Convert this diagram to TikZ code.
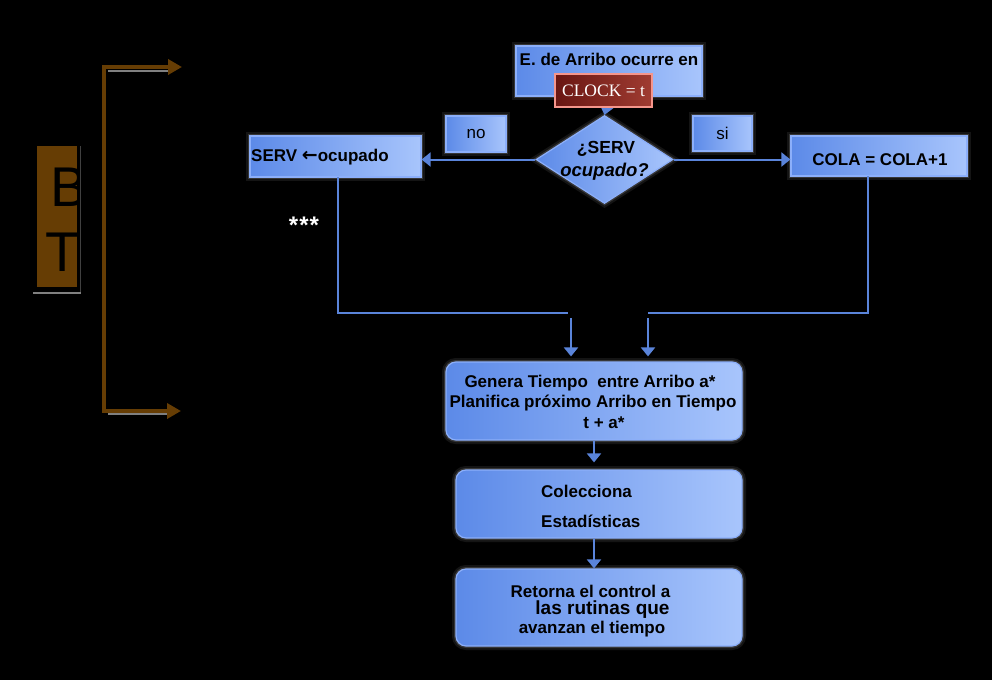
\documentclass[tikz,border=0pt]{standalone}
\usepackage{fontspec}
\setmainfont{Liberation Sans}
\newfontfamily\clkfont{Liberation Serif}
\newfontfamily\arrfont{DejaVu Sans}
\usetikzlibrary{shapes.geometric,arrows.meta}
\definecolor{bxL}{RGB}{92,138,232}
\definecolor{bxR}{RGB}{168,197,252}
\definecolor{bxE}{RGB}{140,175,250}
\definecolor{lnC}{RGB}{90,132,218}
\definecolor{brn}{RGB}{102,61,4}
\definecolor{clkL}{RGB}{105,22,18}
\definecolor{clkR}{RGB}{160,60,50}
\definecolor{clkE}{RGB}{245,150,140}
\tikzset{
  glow/.style={preaction={draw=white,draw opacity=0.08,line width=8pt},
               preaction={draw=white,draw opacity=0.15,line width=4pt}},
  bbox/.style={glow,draw=bxE,line width=1.2pt,left color=bxL,right color=bxR,
               inner sep=0pt,minimum width=#1},
  rbox/.style={bbox=#1,rounded corners=10pt},
  txt/.style={inner sep=0pt,text=black,font=\bfseries\fontsize{17}{20}\selectfont},
  conn/.style={draw=lnC,line width=2pt},
  tip/.style={-{Triangle[width=14pt,length=9pt]}},
}
\begin{document}
\begin{tikzpicture}[x=1pt,y=-1pt]
\fill[black] (0,0) rectangle (992,680);
\useasboundingbox (0,0) rectangle (992,680);
% BT block
\fill[brn] (37,146) rectangle (77,287);
\draw[gray!50!black,line width=1pt] (80,146) -- (80,293);
\draw[gray,line width=2pt] (33,293) -- (81,293);
\begin{scope}
\clip (37,146) rectangle (77,287);
\node[inner sep=0pt,font=\fontsize{56}{56}\selectfont,text=black] (bB) at (69,187) {B};
\node[inner sep=0pt,font=\fontsize{56}{56}\selectfont,text=black] (bT) at (63,252) {T};
\end{scope}
% bracket
\coordinate (brT) at (182,67);
\coordinate (brB) at (181,411);
\draw[gray,line width=1.5pt] (108,71) -- (168,71);
\draw[gray,line width=1.5pt] (108,414) -- (168,414);
\draw[brn,line width=4pt,{Triangle[width=15pt,length=14pt]}-{Triangle[width=15pt,length=14pt]}]
  (brT) -- (104,67) -- (104,411) -- (brB);
% top event box
\node[bbox=186pt,minimum height=50pt] (top) at (609,71) {};
\node[txt] (topt) at (609,59) {E. de Arribo ocurre en};
% diamond
\node[diamond,glow,draw=bxE,line width=1.2pt,left color=bxL,right color=bxR,
      inner sep=0pt,minimum width=137pt,minimum height=88pt] (dia) at (604.5,159.5) {};
\draw[conn,tip] (top.south) -- (dia.north);
\node[txt,font=\bfseries\fontsize{17.5}{20}\selectfont] (d1) at (606,149) {¿SERV};
\node[txt,font=\bfseries\itshape\fontsize{18.5}{20}\selectfont] (d2) at (604.5,172) {ocupado?};
% clock box
\node[draw=clkE,line width=1.5pt,left color=clkL,right color=clkR,inner sep=0pt,
      minimum width=97pt,minimum height=33pt,text=white,font=\clkfont\fontsize{17.5}{19}\selectfont]
      (clk) at (603.5,90.5) {CLOCK = t};
% no / si
\node[bbox=60pt,minimum height=36pt,font=\fontsize{17}{19}\selectfont] (no) at (476,134) {no};
\node[bbox=59pt,minimum height=35pt,font=\fontsize{17}{19}\selectfont] (si) at (722.5,133.5) {si};
% side boxes
\node[bbox=171pt,minimum height=41pt] (serv) at (335.5,156.5) {};
\node[txt,anchor=west] (servt) at (251,157) {SERV {\arrfont\bfseries\fontsize{19}{20}\selectfont ←}ocupado};
\node[bbox=176pt,minimum height=40pt] (cola) at (879,156) {};
\node[txt] (colat) at (880,160) {COLA = COLA+1};
\draw[conn,tip] (dia.west) -- (dia.west -| serv.east);
\draw[conn,tip] (dia.east) -- (dia.east -| cola.west);
\node[text=white,font=\bfseries\fontsize{24}{26}\selectfont,inner sep=0pt] (stars) at (304,225) {*\kern1pt*\kern1pt*};
% merge lines
\coordinate (sS) at (338,177);
\coordinate (jL) at (568,313);
\coordinate (cS) at (868,176);
\coordinate (jR) at (648,313);
\draw[conn] (sS) |- (jL);
\draw[conn] (cS) |- (jR);
% process boxes
\node[rbox=296pt,minimum height=78pt] (gen) at (594,401) {};
\node[txt] (g1) at (590,383) {Genera Tiempo\ \ entre Arribo a*};
\node[txt] (g2) at (593,403) {Planifica próximo Arribo en Tiempo};
\node[txt] (g3) at (604,423) {t + a*};
\coordinate (a1) at (571,318);
\coordinate (a2) at (648,318);
\draw[conn,tip,shorten >=5pt] (a1) -- (a1 |- gen.north);
\draw[conn,tip,shorten >=5pt] (a2) -- (a2 |- gen.north);
\node[rbox=286pt,minimum height=68pt] (col) at (599,504) {};
\node[txt,anchor=west] (c1) at (541,491) {Colecciona};
\node[txt,anchor=west] (c2) at (541,521) {Estadísticas};
\node[rbox=286pt,minimum height=77pt] (ret) at (599,607.5) {};
\node[txt] (r1) at (590.5,591) {Retorna el control a};
\node[txt,font=\bfseries\fontsize{19}{21}\selectfont] (r2) at (602.5,610) {las rutinas que};
\node[txt] (r3) at (592,629) {avanzan el tiempo};
\draw[conn,tip,shorten >=7pt] (gen.south) -- (gen.south |- col.north);
\draw[conn,tip] (gen.south |- col.south) -- (gen.south |- ret.north);
\end{tikzpicture}
\end{document}
